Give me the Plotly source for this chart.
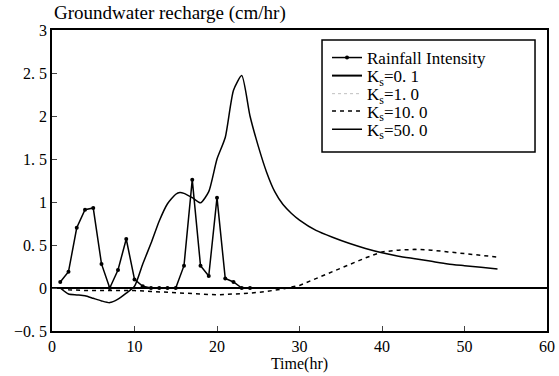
import plotly.graph_objects as go

# ---- data ----
t_rain = list(range(1, 25))
rain = [0.07, 0.19, 0.70, 0.91, 0.93, 0.28, 0.0, 0.21, 0.57, 0.10, 0.02, 0.0,
        0.0, 0.0, 0.0, 0.26, 1.26, 0.26, 0.14, 1.05, 0.11, 0.07, 0.0, 0.0]

t_ks01 = [1, 10, 20, 30, 40, 54]
ks01 = [0.0, 0.0, 0.0, 0.0, 0.0, 0.0]

t_ks1 = [1, 10, 20, 30, 40, 54]
ks1 = [0.0, 0.0, 0.0, 0.0, 0.0, 0.0]

t_ks10 = [1, 2, 4, 6, 8, 10, 12, 14, 16, 18, 20, 22, 24, 26, 28, 30, 32, 34, 36,
          38, 40, 42, 44, 46, 48, 50, 52, 54]
ks10 = [0.0, -0.02, -0.03, -0.03, -0.03, -0.03, -0.04, -0.05, -0.06, -0.07, -0.08,
        -0.07, -0.06, -0.04, -0.01, 0.03, 0.11, 0.19, 0.27, 0.35, 0.42, 0.44, 0.45,
        0.44, 0.42, 0.40, 0.38, 0.36]

t_ks50 = [1, 2, 3, 4, 5, 6, 7, 8, 9, 10, 11, 12, 13, 14, 15, 15.5, 16, 17, 18, 19,
          20, 21, 22, 23, 24, 25, 26, 27, 28, 29, 30, 32, 34, 36, 38, 40, 42, 44,
          46, 48, 50, 52, 54]
ks50 = [0.0, -0.07, -0.08, -0.09, -0.12, -0.15, -0.17, -0.13, -0.06, 0.02, 0.28,
        0.52, 0.78, 0.98, 1.09, 1.11, 1.10, 1.05, 0.99, 1.12, 1.50, 1.75, 2.30, 2.47,
        2.00, 1.65, 1.35, 1.12, 0.97, 0.87, 0.79, 0.67, 0.59, 0.52, 0.46, 0.41,
        0.37, 0.34, 0.31, 0.28, 0.26, 0.24, 0.22]

series_names = ["Rainfall Intensity", "K<sub>s</sub>=0. 1", "K<sub>s</sub>=1. 0",
                "K<sub>s</sub>=10. 0", "K<sub>s</sub>=50. 0"]

y_ticks = [-0.5, 0, 0.5, 1, 1.5, 2, 2.5, 3]
y_ticktext = ["\u22120. 5", "0", "0. 5", "1", "1. 5", "2", "2. 5", "3"]
x_ticks = [0, 10, 20, 30, 40, 50, 60]

FONT = "Liberation Serif, DejaVu Serif, Times New Roman, serif"

legend_ids = ["legend", "legend2", "legend3", "legend4", "legend5"]
legend_rows_y = [0.907, 0.847, 0.787, 0.729, 0.669]  # paper y of each legend row

fig = go.Figure()
fig.add_trace(go.Scatter(x=t_rain, y=rain, mode="lines+markers", name=series_names[0],
                         line=dict(color="black", width=1.5),
                         marker=dict(color="black", size=4), legend=legend_ids[0]))
fig.add_trace(go.Scatter(x=t_ks01, y=ks01, mode="lines", name=series_names[1],
                         line=dict(color="black", width=2), legend=legend_ids[1]))
fig.add_trace(go.Scatter(x=t_ks1, y=ks1, mode="lines", name=series_names[2],
                         line=dict(color="rgba(0,0,0,0.25)", width=1, dash="dot"),
                         legend=legend_ids[2]))
fig.add_trace(go.Scatter(x=t_ks10, y=ks10, mode="lines", name=series_names[3],
                         line=dict(color="black", width=1.5, dash="4px,4px"),
                         legend=legend_ids[3]))
fig.add_trace(go.Scatter(x=t_ks50, y=ks50, mode="lines", name=series_names[4],
                         line=dict(color="black", width=1.5, shape="spline", smoothing=0.6),
                         legend=legend_ids[4]))

legend_layout = {}
for lid, ly in zip(legend_ids, legend_rows_y):
    legend_layout[lid] = dict(x=0.5556, y=ly, xanchor="left", yanchor="middle",
                              borderwidth=0, bgcolor="rgba(0,0,0,0)",
                              font=dict(family=FONT, size=17), itemwidth=30)

fig.update_layout(
    width=559, height=376,
    margin=dict(l=52, r=12, t=30, b=45, autoexpand=False),
    paper_bgcolor="white", plot_bgcolor="white",
    font=dict(family=FONT, size=16, color="black"),
    showlegend=True,
    xaxis=dict(range=[0, 60], tickvals=x_ticks, ticks="inside", ticklen=5,
               showline=True, linecolor="black", linewidth=1.5, mirror=True,
               showgrid=False, zeroline=False, automargin=False,
               title=dict(text="Time(hr)", font=dict(family=FONT, size=16), standoff=0)),
    yaxis=dict(range=[-0.5, 3], tickvals=y_ticks, ticktext=y_ticktext, ticks="inside",
               ticklen=5, showline=True, linecolor="black", linewidth=1.5, mirror=True,
               showgrid=False, zeroline=True, zerolinecolor="black", zerolinewidth=1.5,
               automargin=False),
    shapes=[dict(type="rect", xref="paper", yref="paper",
                 x0=0.5455, x1=0.9758, y0=0.5947, y1=0.9668,
                 line=dict(color="black", width=1.5), fillcolor="white", layer="above")],
    annotations=[dict(text="Groundwater recharge (cm/hr)", x=0, y=1, xref="paper",
                      yref="paper", xanchor="left", yanchor="bottom", showarrow=False,
                      xshift=0, yshift=4, font=dict(family=FONT, size=19))],
    **legend_layout,
)

fig.write_html("out.html")
